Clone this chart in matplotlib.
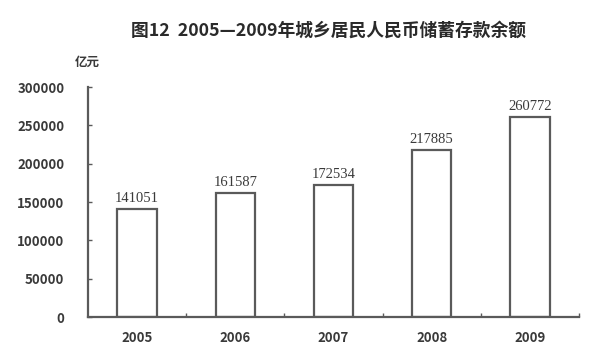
import matplotlib
matplotlib.use("Agg")
import matplotlib.pyplot as plt
from matplotlib.ticker import FixedLocator

years = ["2005", "2006", "2007", "2008", "2009"]
balances = [141051, 161587, 172534, 217885, 260772]
yticks = [0, 50000, 100000, 150000, 200000, 250000, 300000]

plt.rcParams['font.family'] = ['Noto Sans CJK SC', 'DejaVu Sans']

fig = plt.figure(figsize=(6, 3.6), dpi=100)
ax = fig.add_axes([0.1467, 0.1194, 0.8183, 0.6389])

lc = "#5a5a5a"
tc = "#3a3a3a"
x = list(range(len(years)))
ax.bar(x, balances, width=0.4, facecolor="white", edgecolor=lc, linewidth=1.6)
for xi, v in zip(x, balances):
    ax.annotate(str(v), (xi, v), xytext=(0, 3), textcoords="offset points",
                ha="center", va="bottom", fontsize=10.5, color=tc,
                family=["Liberation Serif"])

ax.set_xlim(-0.5, len(years) - 0.5)
ax.set_ylim(0, 300000)
ax.set_yticks(yticks)
ax.set_yticklabels([str(t) for t in yticks])
ax.set_xticks(x)
ax.set_xticklabels(years)
ax.xaxis.set_minor_locator(FixedLocator([i + 0.5 for i in x]))
ax.tick_params(axis="x", which="major", length=0, pad=10, labelsize=9.5, labelcolor=tc)
ax.tick_params(axis="x", which="minor", direction="in", length=3, color=lc, width=1)
ax.tick_params(axis="y", direction="in", length=3, color=lc, width=1, pad=17,
               labelsize=9.5, labelcolor=tc)
for lab in ax.get_xticklabels() + ax.get_yticklabels():
    lab.set_fontweight("bold")

for s in ["top", "right"]:
    ax.spines[s].set_visible(False)
for s in ["left", "bottom"]:
    ax.spines[s].set_color(lc)
    ax.spines[s].set_linewidth(1.6)

fig.text(0.547, 0.915, "图12  2005—2009年城乡居民人民币储蓄存款余额", ha="center",
         va="center", fontsize=12.8, fontweight="bold", color="#2a2a2a")
fig.text(0.145, 0.828, "亿元", ha="center", va="center", fontsize=9,
         fontweight="bold", color=tc)

fig.savefig("out.png", dpi=100, facecolor="white")
